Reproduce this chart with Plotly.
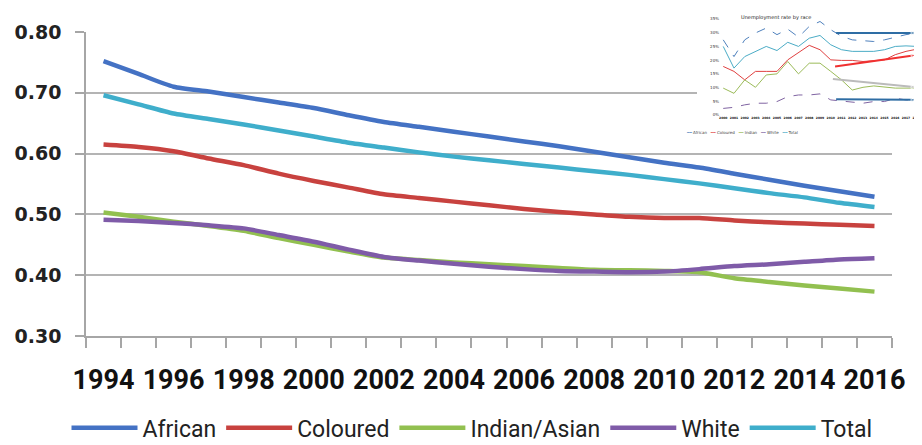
import plotly.graph_objects as go

# ---------------- main chart data ----------------
years = list(range(1994, 2017))
tick_years = list(range(1994, 2017, 2))
tick_labels = [str(y) for y in tick_years]
y_ticks = [0.30, 0.40, 0.50, 0.60, 0.70, 0.80]
y_tick_labels = ["0.30", "0.40", "0.50", "0.60", "0.70", "0.80"]

series_names = ["African", "Coloured", "Indian/Asian", "White", "Total"]
african = [0.752, 0.731, 0.710, 0.702, 0.693, 0.684, 0.675, 0.663, 0.652, 0.644, 0.636, 0.628,
           0.620, 0.612, 0.603, 0.594, 0.585, 0.577, 0.567, 0.557, 0.547, 0.538, 0.529]
coloured = [0.615, 0.611, 0.604, 0.592, 0.581, 0.567, 0.555, 0.544, 0.533, 0.527, 0.521, 0.515,
            0.509, 0.504, 0.500, 0.496, 0.494, 0.494, 0.490, 0.487, 0.485, 0.483, 0.481]
indian_asian = [0.503, 0.496, 0.488, 0.481, 0.473, 0.461, 0.450, 0.439, 0.429, 0.425, 0.421, 0.418,
                0.415, 0.412, 0.409, 0.408, 0.407, 0.405, 0.395, 0.389, 0.383, 0.378, 0.373]
white = [0.491, 0.489, 0.486, 0.482, 0.477, 0.466, 0.455, 0.442, 0.430, 0.424, 0.419, 0.414,
         0.410, 0.407, 0.406, 0.405, 0.406, 0.410, 0.415, 0.418, 0.422, 0.426, 0.428]
total = [0.696, 0.681, 0.666, 0.657, 0.648, 0.638, 0.628, 0.618, 0.610, 0.602, 0.595, 0.589,
         0.583, 0.577, 0.571, 0.565, 0.558, 0.551, 0.543, 0.535, 0.528, 0.519, 0.512]
series_colors = ["#4472C4", "#C8423F", "#92C050", "#7F5BA8", "#3FAECB"]

# ---------------- inset thumbnail data ----------------
inset_title = "Unemployment rate by race"
inset_x = list(range(19))
inset_x_labels = [str(y) for y in range(2000, 2019)]
inset_y_ticks = [0, 5, 10, 15, 20, 25, 30, 35]
inset_y_labels = ["0%", "5%", "10%", "15%", "20%", "25%", "30%", "35%"]
inset_african = [27.4, 21.3, 27.4, 29.9, 31.7, 29.3, 31.3, 28.4, 32.3, 34.1, 31.1, 28.7, 27.4,
                 27.2, 26.8, 27.4, 28.4, 29.3, 29.9]
inset_coloured = [17.7, 15.9, 12.8, 15.9, 15.9, 15.9, 20.1, 22.6, 25.4, 23.8, 20.1, 19.9, 19.9,
                  19.5, 19.9, 20.1, 22.0, 23.2, 24.0]
inset_indian = [9.8, 7.9, 12.8, 10.1, 14.6, 15.0, 19.5, 15.0, 18.9, 18.9, 15.9, 12.8, 9.1, 10.1,
                10.6, 10.1, 9.8, 9.8, 9.8]
inset_white = [2.4, 2.8, 3.7, 4.3, 4.3, 4.9, 6.7, 7.3, 7.3, 7.7, 5.5, 5.1, 4.9, 4.3, 4.9, 4.9,
               6.1, 5.5, 5.5]
inset_total = [25.0, 17.1, 21.3, 23.2, 25.0, 23.5, 26.5, 25.0, 28.0, 29.0, 25.6, 23.8, 23.2, 23.2,
               23.2, 23.8, 25.0, 25.2, 25.0]
inset_colors = ["#4F81BD", "#E04040", "#9BBB59", "#8064A2", "#4BACC6"]
inset_dashes = ["dash", "solid", "solid", "dash", "solid"]
inset_legend_names = ["African", "Coloured", "Indian", "White", "Total"]
ref_levels = [25.0, 19.9]
arrow_x = [[10.5, 18], [10.4, 18], [10.2, 18], [10.5, 18]]
arrow_y = [[29.9, 29.9], [17.7, 21.9], [13.1, 10.1], [5.7, 5.5]]
arrow_colors = ["#2E6DA4", "#F03030", "#BBBBBB", "#2E6DA4"]

# page body has an 8px margin: the figure is drawn 8px in from the top-left corner
OFF = 8
W, H = 922 - OFF, 445 - OFF


def fx(p):
    return (p - OFF) / W


def fy(p):
    return 1 - (p - OFF) / H


fig = go.Figure()

for name, vals, color in zip(series_names, [african, coloured, indian_asian, white, total], series_colors):
    fig.add_trace(go.Scatter(
        x=years, y=vals, name=name, mode="lines",
        line=dict(color=color, width=4.5, shape="spline", smoothing=0.6),
        xaxis="x", yaxis="y", hoverinfo="skip"))

for name, vals, color, dash in zip(inset_legend_names,
                                   [inset_african, inset_coloured, inset_indian, inset_white, inset_total],
                                   inset_colors, inset_dashes):
    fig.add_trace(go.Scatter(
        x=inset_x, y=vals, mode="lines", showlegend=False,
        line=dict(color=color, width=1, dash=dash),
        xaxis="x2", yaxis="y2", hoverinfo="skip"))

for ax_, ay_, c in zip(arrow_x, arrow_y, arrow_colors):
    fig.add_trace(go.Scatter(
        x=ax_, y=ay_, mode="lines+markers", showlegend=False,
        line=dict(color=c, width=2),
        marker=dict(symbol="arrow", angleref="previous", size=[0, 6], color=c),
        xaxis="x2", yaxis="y2", hoverinfo="skip"))

shapes = []
# white panel of the pasted thumbnail, hiding main gridlines behind it
shapes.append(dict(type="rect", xref="x", yref="y", layer="between",
                   x0=1993.5 + (697 - 86) / 35.043, x1=2018,
                   y0=0.80 - (132 - 32) / 608.0, y1=0.9,
                   fillcolor="white", line=dict(width=0)))
for lv in ref_levels:
    shapes.append(dict(type="line", xref="x2 domain", yref="y2", x0=0, x1=1, y0=lv, y1=lv,
                       line=dict(color="#A8A8A8", width=1.5), layer="below"))

legend2_text = "   ".join(
    f"<span style='color:{c}'>━━</span> {n}" for n, c in zip(inset_legend_names, inset_colors))

fig.update_layout(
    width=W, height=H,
    margin=dict(l=0, r=0, t=0, b=0, autoexpand=False),
    paper_bgcolor="white", plot_bgcolor="white",
    font=dict(family="Roboto", color="#222"),
    showlegend=True,
    legend=dict(orientation="h", x=fx(472), xanchor="center", y=-0.01, yanchor="bottom",
                font=dict(family="Roboto", size=23, color="#222"), itemwidth=66,
                bgcolor="rgba(0,0,0,0)", traceorder="normal"),
    xaxis=dict(domain=[fx(86), fx(892)], range=[1993.5, 2016.5], tickmode="array",
               tickvals=tick_years, ticktext=tick_labels, ticks="", showgrid=False,
               zeroline=False, showline=True, linecolor="#A6A6A6", linewidth=1.5,
               tickfont=dict(family="Roboto", size=27, color="#111", weight="bold"),
               ticklabelstandoff=19,
               minor=dict(ticks="outside", tick0=1993.5, dtick=1, ticklen=10,
                          tickcolor="#A6A6A6", tickwidth=1.5, showgrid=False),
               anchor="y", fixedrange=True),
    yaxis=dict(domain=[fy(336), fy(32)], range=[0.30, 0.80], tickmode="array",
               tickvals=y_ticks, ticktext=y_tick_labels, ticks="outside", ticklen=9,
               tickcolor="#A6A6A6", tickwidth=1.5, showgrid=True, gridcolor="#B4B4B4",
               gridwidth=1.5, zeroline=False, showline=True, linecolor="#A6A6A6", linewidth=1.5,
               tickfont=dict(family="DejaVu Sans", size=19, color="#222", weight="bold"),
               ticklabelstandoff=10, anchor="x", fixedrange=True),
    xaxis2=dict(domain=[fx(720), fx(920)], range=[-0.3, 18.3], tickmode="array",
                tickvals=inset_x, ticktext=inset_x_labels, ticks="", showgrid=False,
                zeroline=False, showline=False, tickangle=0,
                tickfont=dict(family="DejaVu Sans", size=3, color="#111", weight="bold"),
                anchor="y2", fixedrange=True),
    yaxis2=dict(domain=[fy(115), fy(19)], range=[0, 35], tickmode="array",
                tickvals=inset_y_ticks, ticktext=inset_y_labels, ticks="", showgrid=False,
                zeroline=False, showline=False,
                tickfont=dict(family="DejaVu Sans", size=4, color="#333"),
                anchor="x2", fixedrange=True),
    shapes=shapes,
    annotations=[
        dict(text=inset_title, x=fx(813), y=fy(12), xref="paper", yref="paper",
             showarrow=False, font=dict(family="DejaVu Sans", size=5, color="#222")),
        dict(text=legend2_text, x=fx(800), y=fy(128), xref="paper", yref="paper",
             showarrow=False, font=dict(family="DejaVu Sans", size=4, color="#444")),
    ],
)

fig.write_html("out.html")
